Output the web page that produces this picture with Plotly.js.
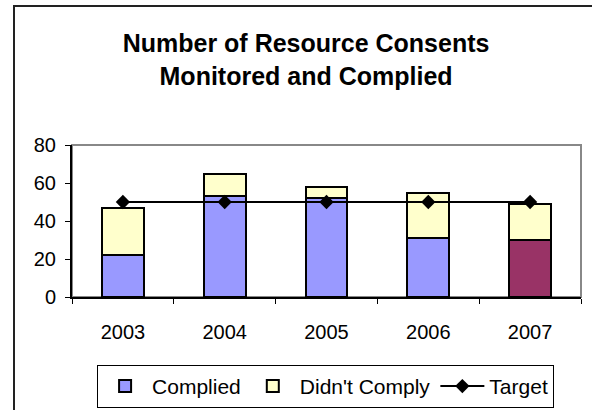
<!DOCTYPE html>
<html>
<head>
<meta charset="utf-8">
<script src="https://cdn.plot.ly/plotly-3.0.1.min.js"></script>
<style>
  html, body { margin: 0; padding: 0; background: #fff; }
  #wrap { position: relative; width: 592px; height: 410px; overflow: hidden; }
  #chart { width: 592px; height: 410px; }
  #frame { position: absolute; left: 13px; top: 5px; width: 700px; height: 500px;
           border-left: 2px solid #222; border-top: 2px solid #222; pointer-events: none; }
</style>
</head>
<body>
<div id="wrap">
  <div id="chart"></div>
  <div id="frame"></div>
</div>
<script>
const years = ['2003', '2004', '2005', '2006', '2007'];
const complied = [22, 53, 52, 31, 30];
const didntComply = [25, 12, 6, 24, 19];
const target = [50, 50, 50, 50, 50];
const compliedColors = ['#9999FF', '#9999FF', '#9999FF', '#9999FF', '#993366'];

const FONT = 'Liberation Sans, Arial, sans-serif';

const traces = [
  {
    type: 'bar', name: 'Complied', x: years, y: complied, width: 0.41,
    marker: { color: compliedColors, line: { color: '#000', width: 2 } }
  },
  {
    type: 'bar', name: "Didn't Comply", x: years, y: didntComply, width: 0.41,
    marker: { color: '#FFFFCC', line: { color: '#000', width: 2 } }
  },
  {
    type: 'scatter', mode: 'lines+markers', name: 'Target', x: years, y: target,
    line: { color: '#000', width: 2 },
    marker: { symbol: 'diamond', size: 11, color: '#000' }
  }
];

const layout = {
  width: 592, height: 410,
  margin: { l: 72, r: 11, t: 145, b: 113 },
  paper_bgcolor: '#fff', plot_bgcolor: '#fff',
  barmode: 'stack',
  showlegend: true,
  font: { family: FONT, color: '#000', size: 20 },
  title: {
    text: '<b>Number of Resource Consents<br>Monitored and Complied</b>',
    font: { family: FONT, size: 25, color: '#000' },
    xref: 'container', x: 0.517, xanchor: 'center',
    yref: 'container', y: 0.873, yanchor: 'middle'
  },
  xaxis: {
    type: 'category', showline: true, linecolor: '#000', linewidth: 2,
    ticks: 'outside', tickson: 'boundaries', ticklen: 5, tickcolor: '#000', tickwidth: 1,
    ticklabelstandoff: 16,
    showgrid: false, zeroline: false,
    tickfont: { family: FONT, size: 20 }, automargin: false
  },
  yaxis: {
    range: [0, 80], dtick: 20, showline: true, linecolor: '#000', linewidth: 2,
    ticks: 'outside', ticklen: 5, tickcolor: '#000', tickwidth: 1,
    ticklabelstandoff: 5,
    showgrid: false, zeroline: false,
    tickfont: { family: FONT, size: 20 }, automargin: false
  },
  shapes: [{
    type: 'rect', xref: 'paper', yref: 'paper', x0: 0, x1: 1, y0: 0, y1: 1,
    line: { color: '#888', width: 2 }, layer: 'below'
  }],
  legend: {
    orientation: 'h', traceorder: 'normal',
    xref: 'container', x: 0.164, xanchor: 'left',
    yref: 'container', y: 0.005, yanchor: 'bottom',
    bordercolor: '#000', borderwidth: 1, bgcolor: '#fff',
    itemwidth: 44,
    font: { family: FONT, size: 21 }
  }
};

Plotly.newPlot('chart', traces, layout, { staticPlot: true, displayModeBar: false });
</script>
</body>
</html>
